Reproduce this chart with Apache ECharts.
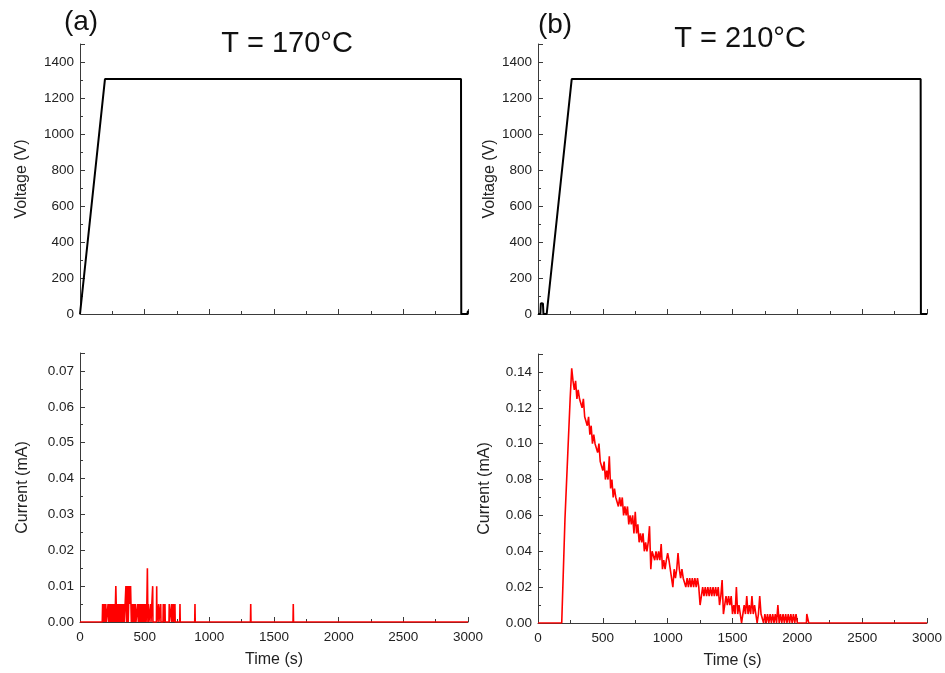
<!DOCTYPE html>
<html>
<head>
<meta charset="utf-8">
<script src="https://cdn.jsdelivr.net/npm/echarts@6/dist/echarts.min.js"></script>
<style>html,body{margin:0;padding:0;background:#fff;}#c{width:945px;height:673px;}</style>
</head>
<body>
<div id="c"></div>
<script>
// ---- data ----
const panelLabels = ['(a)', '(b)'];
const panelTitles = ['T = 170\u00B0C', 'T = 210\u00B0C'];
const timeRange = [0, 3000];
const voltageRange = [0, 1500];
const current170Range = [0, 0.075];
const current210Range = [0, 0.15];

// Voltage (V) vs time (s)
const volt170 = [[0,0],[193,1305],[2946,1305],[2948,0],[2995,0],[3000,18]];
const volt210 = [[0,0],[18,0],[22,60],[30,62],[38,58],[42,0],[67,0],[260,1305],[2951,1305],[2953,0],[3000,0]];

// Current (mA) vs time (s), T = 170 C
const cur170 = [[0,0],[172,0],
 [175,0.005],[181,0],[187,0.005],[193,0],[199,0.005],[205,0],[211,0],[217,0.005],[223,0],[229,0.005],
 [235,0],[241,0.005],[247,0],[253,0.005],[259,0],[265,0.005],[271,0],[277,0.01],[283,0],[289,0.005],
 [295,0],[301,0.005],[307,0],[313,0.005],[319,0],[325,0.005],[331,0],[337,0.005],[343,0],[349,0.005],
 [355,0.01],[361,0],[367,0.01],[373,0],[379,0.01],[385,0.005],[391,0.01],[397,0],[403,0.005],[409,0],
 [415,0.005],[421,0],[427,0.005],[433,0],[439,0],[445,0.005],[451,0],[457,0.005],[463,0],[469,0.005],
 [475,0],[481,0.005],[487,0],[493,0.005],[499,0],[505,0.005],[511,0],[517,0.005],[521,0.015],[525,0],
 [529,0.005],[533,0],
 [545,0],[547,0.005],[549,0],[560,0],[562,0.01],[564,0],[591,0],[593,0.01],[595,0],[606,0],[608,0.005],[610,0],
 [622,0],[624,0.005],[626,0],[642,0],[644,0.005],[646,0],[655,0],[657,0.005],[659,0],
 [688,0],[690,0.005],[692,0],[706,0],[708,0.005],[710,0],[719,0],[721,0.005],[723,0],
 [732,0],[734,0.005],[736,0],[771,0],[773,0.005],[775,0],[887,0],[889,0.005],[891,0],
 [1318,0],[1320,0.005],[1322,0],[1647,0],[1649,0.005],[1651,0],[3000,0]];

// Current (mA) vs time (s), T = 210 C
const cur210 = [[0,0],[183,0],[208,0.058],[230,0.095],[248,0.125],[260,0.142],
 [270,0.135],[280,0.13],[290,0.135],[300,0.125],[310,0.13],[320,0.125],[330,0.125],[340,0.12],[350,0.125],[360,0.115],
 [370,0.115],[380,0.11],[390,0.115],[400,0.105],[410,0.11],[420,0.1],[430,0.105],[440,0.1],[450,0.1],[460,0.095],
 [470,0.1],[480,0.09],[490,0.09],[500,0.085],[510,0.09],[520,0.08],[530,0.085],[540,0.08],[550,0.093],[560,0.075],
 [570,0.08],[580,0.07],[590,0.075],[600,0.07],[610,0.07],[620,0.065],[630,0.07],[640,0.065],[650,0.07],[660,0.06],
 [670,0.065],[680,0.06],[690,0.065],[700,0.055],[710,0.06],[720,0.055],[730,0.06],[740,0.05],[750,0.062],[760,0.05],
 [770,0.055],[780,0.045],[790,0.05],[800,0.045],[810,0.05],[820,0.04],[830,0.045],[840,0.04],[850,0.045],[860,0.054],
 [870,0.03],[880,0.04],[890,0.04],[900,0.035],[910,0.04],[920,0.035],[930,0.04],[940,0.035],[950,0.044],[960,0.03],
 [970,0.035],[980,0.03],[990,0.035],[1000,0.039],[1010,0.035],[1020,0.03],[1030,0.03],[1040,0.02],[1050,0.03],[1060,0.025],
 [1070,0.03],[1080,0.039],[1090,0.03],[1100,0.025],[1110,0.03],[1120,0.025],[1130,0.025],[1140,0.02],[1150,0.025],[1160,0.02],
 [1170,0.025],[1180,0.02],[1190,0.025],[1200,0.02],[1210,0.025],[1220,0.02],[1230,0.025],[1240,0.02],[1250,0.01],[1260,0.015],
 [1270,0.02],[1280,0.015],[1290,0.02],[1300,0.015],[1310,0.02],[1320,0.015],[1330,0.02],[1340,0.015],[1350,0.02],[1360,0.015],
 [1370,0.02],[1380,0.015],[1390,0.02],[1400,0.01],[1410,0.015],[1420,0.024],[1430,0.005],[1440,0.01],[1450,0.015],[1460,0.01],
 [1470,0.015],[1480,0.01],[1490,0.015],[1500,0.005],[1510,0.01],[1520,0.005],[1530,0.02],[1540,0.005],[1550,0.01],[1560,0.005],
 [1570,0],[1580,0.005],[1590,0.01],[1600,0.005],[1610,0.015],[1620,0.005],[1630,0.01],[1640,0.005],[1650,0.015],[1660,0.005],
 [1670,0.01],[1680,0.005],[1690,0],[1700,0.005],[1710,0.015],[1720,0.005],[1730,0.005],[1740,0],[1750,0.005],[1760,0],
 [1770,0.005],[1780,0],[1790,0.005],[1800,0],[1810,0.005],[1820,0],[1830,0.005],[1840,0],[1850,0.01],[1860,0],
 [1870,0.005],[1880,0],[1890,0.005],[1900,0],[1910,0.005],[1920,0],[1930,0.005],[1940,0],[1950,0.005],[1960,0],
 [1970,0.005],[1980,0],[1990,0.005],[2000,0],[2070,0],[2073,0.005],[2085,0.005],[2088,0],[3000,0]];

// ---- chart ----
const FONT = 'Liberation Sans';
const AXC = '#3a3a3a';
const chart = echarts.init(document.getElementById('c'), null, {renderer: 'canvas'});

function xAx(gi, showLabels) {
  return {
    type: 'value', gridIndex: gi, min: timeRange[0], max: timeRange[1], interval: 500,
    name: showLabels ? 'Time (s)' : '', nameLocation: 'middle', nameGap: 30,
    nameTextStyle: {fontFamily: FONT, fontSize: 16, color: '#222'},
    axisLine: {show: true, onZero: false, lineStyle: {color: AXC, width: 1}},
    axisTick: {show: true, inside: true, length: 5, lineStyle: {color: AXC}},
    minorTick: {show: true, splitNumber: 2, length: 3, lineStyle: {color: AXC}},
    splitLine: {show: false}, minorSplitLine: {show: false},
    axisLabel: {show: showLabels, fontFamily: FONT, fontSize: 13.5, color: '#222', margin: 8,
      formatter: v => String(Math.round(v))}
  };
}
function yAx(gi, range, interval, name, gap, fmt) {
  return {
    type: 'value', gridIndex: gi, min: range[0], max: range[1], interval: interval,
    name: name, nameLocation: 'middle', nameGap: gap, nameRotate: 90,
    nameTextStyle: {fontFamily: FONT, fontSize: 16, color: '#222'},
    axisLine: {show: true, onZero: false, lineStyle: {color: AXC, width: 1}},
    axisTick: {show: true, inside: true, length: 5, lineStyle: {color: AXC}},
    minorTick: {show: true, splitNumber: 2, length: 3, lineStyle: {color: AXC}},
    splitLine: {show: false}, minorSplitLine: {show: false},
    axisLabel: {fontFamily: FONT, fontSize: 13.5, color: '#222', margin: 6, showMaxLabel: false, formatter: fmt}
  };
}
const fmtInt = v => String(Math.round(v));
const fmt2 = v => v.toFixed(2);

const option = {
  animation: false,
  backgroundColor: '#fff',
  textStyle: {fontFamily: FONT},
  grid: [
    {left: 80, top: 44, width: 388, height: 270},
    {left: 80, top: 353, width: 388, height: 269},
    {left: 538, top: 44, width: 389, height: 270},
    {left: 538, top: 354, width: 389, height: 269}
  ],
  xAxis: [xAx(0, false), xAx(1, true), xAx(2, false), xAx(3, true)],
  yAxis: [
    yAx(0, voltageRange, 200, 'Voltage (V)', 50, fmtInt),
    yAx(1, current170Range, 0.01, 'Current (mA)', 49, fmt2),
    yAx(2, voltageRange, 200, 'Voltage (V)', 40, fmtInt),
    yAx(3, current210Range, 0.02, 'Current (mA)', 45, fmt2)
  ],
  series: [
    {type: 'line', xAxisIndex: 0, yAxisIndex: 0, data: volt170, showSymbol: false, lineStyle: {color: '#000', width: 2}},
    {type: 'line', xAxisIndex: 1, yAxisIndex: 1, data: cur170, showSymbol: false, lineStyle: {color: '#ff0000', width: 1.6}},
    {type: 'line', xAxisIndex: 2, yAxisIndex: 2, data: volt210, showSymbol: false, lineStyle: {color: '#000', width: 2}},
    {type: 'line', xAxisIndex: 3, yAxisIndex: 3, data: cur210, showSymbol: false, lineStyle: {color: '#ff0000', width: 1.6}}
  ],
  graphic: [
    {type: 'text', style: {text: panelLabels[0], x: 81, y: 22, textAlign: 'center', textVerticalAlign: 'middle', font: '28px "Liberation Sans"', fill: '#111'}},
    {type: 'text', style: {text: panelTitles[0], x: 287, y: 44, textAlign: 'center', textVerticalAlign: 'middle', font: '29px "Liberation Sans"', fill: '#111'}},
    {type: 'text', style: {text: panelLabels[1], x: 555, y: 25, textAlign: 'center', textVerticalAlign: 'middle', font: '28px "Liberation Sans"', fill: '#111'}},
    {type: 'text', style: {text: panelTitles[1], x: 740, y: 39, textAlign: 'center', textVerticalAlign: 'middle', font: '29px "Liberation Sans"', fill: '#111'}}
  ]
};
chart.setOption(option);
</script>
</body>
</html>
